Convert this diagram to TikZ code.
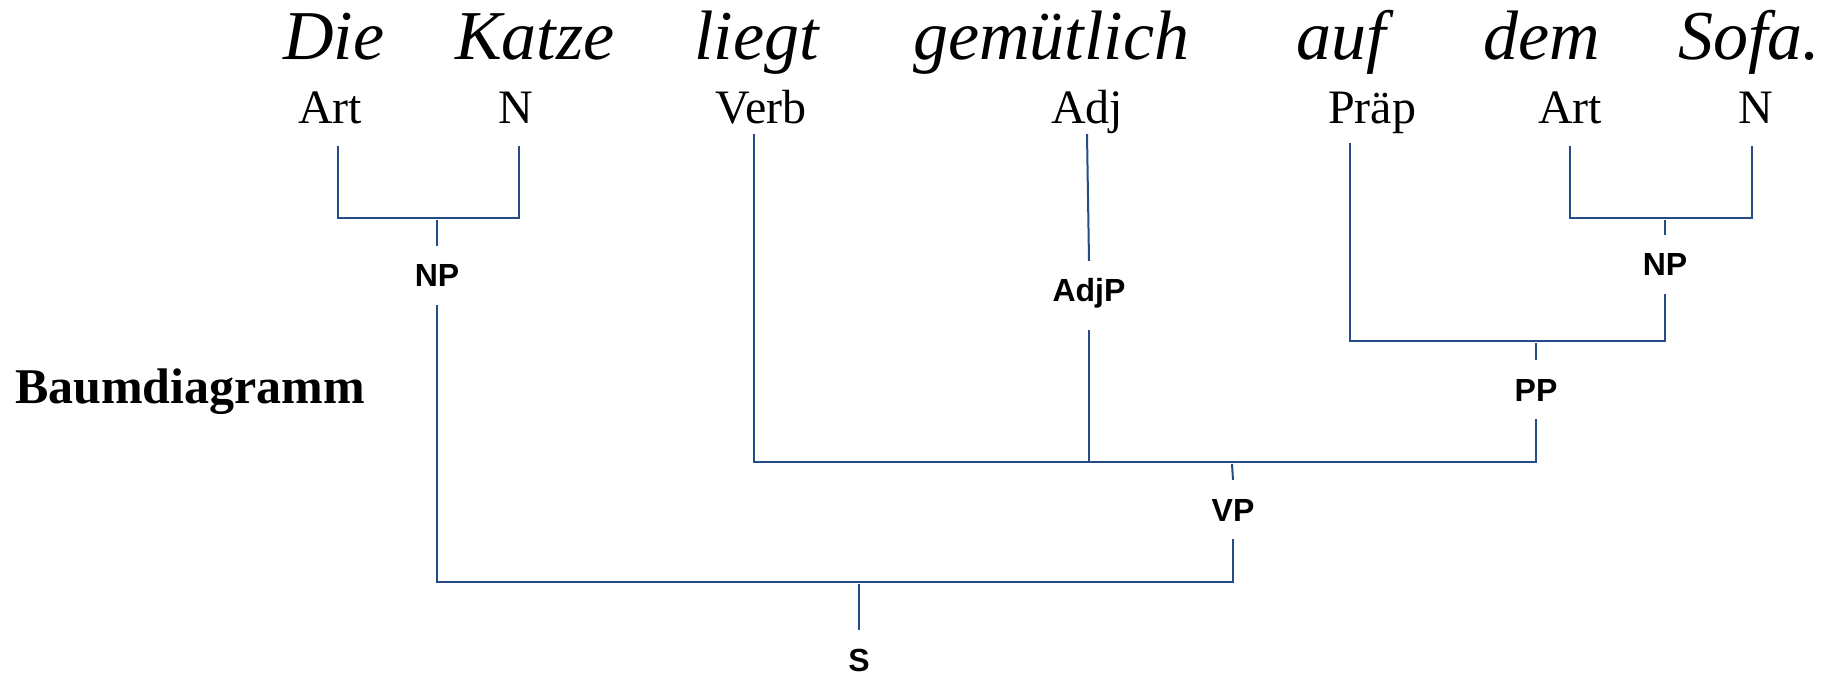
\documentclass[tikz,border=0pt]{standalone}
\usepackage{fontspec}
\setmainfont{Liberation Serif}
\newfontfamily\phrasefont{Liberation Sans}
\definecolor{treeblue}{RGB}{38,76,135}
\begin{document}
\begin{tikzpicture}[x=1pt,y=1pt,yscale=-1,xscale=1,
  word/.style={anchor=base west,inner sep=0pt,font=\fontsize{70}{80}\selectfont\itshape},
  cat/.style={anchor=base,inner sep=0pt,font=\fontsize{48}{56}\selectfont},
  phrase/.style={anchor=base,inner sep=18pt,text height=23pt,text depth=0pt,font=\phrasefont\bfseries\fontsize{32}{38}\selectfont},
  branch/.style={draw=treeblue,line width=2pt}]
\useasboundingbox (0,0) rectangle (1829,676);
% Satz
\node[word] (w1) at (283,60) {Die};
\node[word] (w2) at (455,60) {Katze};
\node[word] (w3) at (694,60) {liegt};
\node[word] (w4) at (913,60) {gemütlich};
\node[word] (w5) at (1296,60) {auf};
\node[word] (w6) at (1483,60) {dem};
\node[word] (w7) at (1678,60) {Sofa.};
% Wortarten
\node[cat] (art1) at (330,124) {Art};
\node[cat] (n1) at (516,124) {N};
\node[cat] (verb) at (761,124) {Verb};
\node[cat] (adj) at (1087,124) {Adj};
\node[cat] (praep) at (1372,124) {Präp};
\node[cat] (art2) at (1570,124) {Art};
\node[cat] (n2) at (1756,124) {N};
\node[anchor=base west,inner sep=0pt,font=\fontsize{50}{58}\selectfont\bfseries] (title) at (15,403) {Baumdiagramm};
% Phrasen
\node[phrase] (np1) at (437,287) {NP};
\node[phrase,text depth=10pt] (adjp) at (1089,302) {AdjP};
\node[phrase] (np2) at (1665,276) {NP};
\node[phrase] (pp) at (1536,401) {PP};
\node[phrase] (vp) at (1233,521) {VP};
\node[phrase] (s) at (859,671) {S};
% Astenden und Knoten
\coordinate (t-art1) at (338,146);
\coordinate (t-n1) at (519,146);
\coordinate (t-verb) at (754,134);
\coordinate (t-adj) at (1087,134);
\coordinate (t-praep) at (1350,143);
\coordinate (t-art2) at (1570,146);
\coordinate (t-n2) at (1752,146);
\coordinate (j-np1) at (437,218);
\coordinate (j-np2) at (1665,218);
\coordinate (j-pp) at (1536,341);
\coordinate (j-vp) at (1232,462);
\coordinate (j-s) at (859,582);
% Baum
\draw[branch] (t-art1) |- (j-np1) -| (t-n1);
\draw[branch] ([yshift=2pt]j-np1) -- (np1.north);
\draw[branch] (t-art2) |- (j-np2) -| (t-n2);
\draw[branch] ([yshift=2pt]j-np2) -- (np2.north);
\draw[branch] (t-praep) |- (j-pp) -| (np2.south);
\draw[branch] ([yshift=2pt]j-pp) -- (pp.north);
\draw[branch] (t-adj) -- (adjp.north);
\draw[branch] (t-verb) |- (j-vp) -| (pp.south);
\draw[branch] (adjp.south) -- (adjp.south |- j-vp);
\draw[branch] ([yshift=2pt]j-vp) -- (vp.north);
\draw[branch] (np1.south) |- (j-s) -| (vp.south);
\draw[branch] ([yshift=2pt]j-s) -- (s.north);
\end{tikzpicture}
\end{document}
